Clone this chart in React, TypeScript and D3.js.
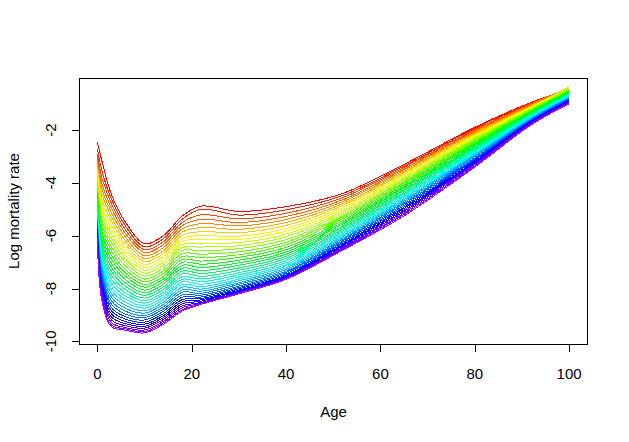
import React from "react";
import * as d3 from "d3";

const ages = [0, 1, 3, 6, 10, 14, 18, 22, 30, 40, 52, 65, 80, 92, 100];

// log mortality rate at each age, one value per year (earliest year first)
const rateAge0 = [-2.45, -2.71, -2.89, -3.04, -3.19, -3.32, -3.45, -3.57, -3.69, -3.8, -3.92, -4.02, -4.13, -4.23, -4.34, -4.44, -4.53, -4.63, -4.73, -4.82, -4.91, -5.01, -5.1, -5.19, -5.28, -5.36, -5.45, -5.54, -5.62, -5.71, -5.79, -5.87, -5.96, -6.04, -6.12, -6.2];
const rateAge1 = [-3.2, -3.57, -3.82, -4.04, -4.24, -4.43, -4.61, -4.79, -4.95, -5.11, -5.27, -5.42, -5.57, -5.72, -5.87, -6.01, -6.15, -6.28, -6.42, -6.55, -6.68, -6.81, -6.94, -7.07, -7.19, -7.32, -7.44, -7.56, -7.68, -7.8, -7.92, -8.04, -8.16, -8.27, -8.39, -8.5];
const rateAge3 = [-4.45, -4.62, -4.79, -4.96, -5.13, -5.29, -5.46, -5.62, -5.79, -5.95, -6.11, -6.27, -6.43, -6.59, -6.74, -6.9, -7.05, -7.2, -7.35, -7.5, -7.64, -7.79, -7.93, -8.07, -8.2, -8.34, -8.47, -8.6, -8.73, -8.85, -8.97, -9.08, -9.19, -9.29, -9.38, -9.45];
const rateAge6 = [-5.5, -5.64, -5.79, -5.93, -6.07, -6.21, -6.34, -6.48, -6.62, -6.75, -6.89, -7.02, -7.15, -7.29, -7.42, -7.54, -7.67, -7.8, -7.92, -8.05, -8.17, -8.29, -8.41, -8.52, -8.64, -8.75, -8.86, -8.97, -9.07, -9.16, -9.25, -9.33, -9.41, -9.48, -9.53, -9.58];
const rateAge10 = [-6.3, -6.42, -6.53, -6.64, -6.76, -6.87, -6.98, -7.09, -7.2, -7.31, -7.42, -7.53, -7.64, -7.74, -7.85, -7.95, -8.06, -8.16, -8.26, -8.36, -8.46, -8.55, -8.65, -8.74, -8.84, -8.93, -9.02, -9.1, -9.19, -9.27, -9.35, -9.43, -9.5, -9.57, -9.63, -9.68];
const rateAge14 = [-6.0, -6.11, -6.23, -6.34, -6.45, -6.57, -6.68, -6.79, -6.9, -7.01, -7.11, -7.22, -7.33, -7.43, -7.54, -7.64, -7.74, -7.84, -7.94, -8.04, -8.14, -8.23, -8.33, -8.42, -8.51, -8.6, -8.69, -8.78, -8.86, -8.95, -9.03, -9.1, -9.17, -9.24, -9.3, -9.35];
const rateAge18 = [-5.25, -5.37, -5.5, -5.62, -5.74, -5.86, -5.98, -6.1, -6.21, -6.33, -6.45, -6.56, -6.68, -6.79, -6.9, -7.01, -7.12, -7.23, -7.34, -7.44, -7.55, -7.65, -7.75, -7.85, -7.95, -8.05, -8.14, -8.24, -8.33, -8.42, -8.5, -8.58, -8.66, -8.73, -8.8, -8.85];
const rateAge22 = [-4.88, -5.0, -5.21, -5.38, -5.54, -5.69, -5.85, -6.0, -6.14, -6.29, -6.43, -6.57, -6.7, -6.83, -6.96, -7.08, -7.2, -7.32, -7.43, -7.54, -7.64, -7.74, -7.84, -7.93, -8.02, -8.1, -8.18, -8.25, -8.32, -8.38, -8.43, -8.48, -8.53, -8.56, -8.59, -8.6];
const rateAge30 = [-5.08, -5.22, -5.36, -5.5, -5.63, -5.76, -5.89, -6.02, -6.14, -6.26, -6.38, -6.49, -6.61, -6.72, -6.82, -6.93, -7.03, -7.12, -7.22, -7.31, -7.4, -7.48, -7.56, -7.64, -7.71, -7.78, -7.84, -7.91, -7.96, -8.01, -8.06, -8.1, -8.14, -8.17, -8.19, -8.2];
const rateAge40 = [-4.9, -5.02, -5.15, -5.27, -5.39, -5.5, -5.61, -5.73, -5.83, -5.94, -6.04, -6.15, -6.25, -6.34, -6.44, -6.53, -6.62, -6.7, -6.78, -6.86, -6.94, -7.02, -7.09, -7.15, -7.22, -7.28, -7.34, -7.39, -7.44, -7.49, -7.53, -7.56, -7.6, -7.62, -7.64, -7.65];
const rateAge52 = [-4.4, -4.48, -4.56, -4.64, -4.71, -4.79, -4.86, -4.94, -5.01, -5.08, -5.15, -5.23, -5.29, -5.36, -5.43, -5.5, -5.56, -5.63, -5.69, -5.75, -5.81, -5.87, -5.93, -5.99, -6.04, -6.1, -6.15, -6.2, -6.25, -6.3, -6.35, -6.39, -6.44, -6.48, -6.52, -6.55];
const rateAge65 = [-3.3, -3.36, -3.41, -3.47, -3.52, -3.58, -3.63, -3.69, -3.75, -3.8, -3.86, -3.91, -3.97, -4.02, -4.08, -4.14, -4.19, -4.25, -4.3, -4.36, -4.41, -4.47, -4.53, -4.58, -4.64, -4.69, -4.75, -4.8, -4.86, -4.92, -4.97, -5.03, -5.08, -5.14, -5.19, -5.25];
const rateAge80 = [-1.9, -1.94, -1.99, -2.03, -2.07, -2.11, -2.16, -2.2, -2.24, -2.29, -2.33, -2.37, -2.41, -2.46, -2.5, -2.54, -2.59, -2.63, -2.67, -2.71, -2.76, -2.8, -2.84, -2.89, -2.93, -2.97, -3.01, -3.06, -3.1, -3.14, -3.19, -3.23, -3.27, -3.31, -3.36, -3.4];
const rateAge92 = [-0.95, -0.97, -1.0, -1.02, -1.05, -1.07, -1.1, -1.12, -1.14, -1.17, -1.19, -1.22, -1.24, -1.27, -1.29, -1.31, -1.34, -1.36, -1.39, -1.41, -1.44, -1.46, -1.48, -1.51, -1.53, -1.56, -1.58, -1.61, -1.63, -1.65, -1.68, -1.7, -1.73, -1.75, -1.78, -1.8];
const rateAge100 = [-0.46, -0.44, -0.42, -0.4, -0.39, -0.38, -0.39, -0.4, -0.41, -0.42, -0.44, -0.46, -0.49, -0.51, -0.53, -0.55, -0.58, -0.6, -0.62, -0.64, -0.66, -0.69, -0.71, -0.73, -0.75, -0.78, -0.8, -0.82, -0.84, -0.87, -0.89, -0.91, -0.93, -0.96, -0.98, -1.0];

const ratesByAge = [rateAge0, rateAge1, rateAge3, rateAge6, rateAge10, rateAge14, rateAge18, rateAge22, rateAge30, rateAge40, rateAge52, rateAge65, rateAge80, rateAge92, rateAge100];

const xTicks = [0, 20, 40, 60, 80, 100];
const yTicks = [-10, -8, -6, -4, -2];

const font = "'Liberation Sans', Arial, sans-serif";

export default function App() {
  const width = 629,
    height = 442;
  const left = 79,
    right = 588,
    top = 78,
    bottom = 344;

  const x = d3.scaleLinear().domain([-4, 104]).range([78.5, 588]);
  const y = d3.scaleLinear().domain([-10.1, -0.03]).range([bottom, top]);

  const nYears = rateAge0.length;
  // rainbow from red (first year) to violet (last year)
  const colour = (i: number) => d3.hsl((280 * i) / (nYears - 1), 1, 0.5).formatHex();

  const line = d3
    .line<[number, number]>()
    .x((d) => x(d[0]))
    .y((d) => y(d[1]))
    .curve(d3.curveCatmullRom.alpha(0.5));

  const curves = d3.range(nYears).map((i) =>
    ages.map((a, k) => [a, ratesByAge[k][i]] as [number, number])
  );

  return (
    <div style={{ position: "absolute", left: 0, top: 0 }}>
      <svg width={width} height={height} style={{ display: "block", background: "#fff" }}>
        <g fill="none" strokeWidth={1} shapeRendering="crispEdges">
          {curves.map((c, i) => (
            <path key={i} d={line(c) || ""} stroke={colour(i)} />
          ))}
        </g>

        {/* box */}
        <rect
          x={left + 0.5}
          y={top + 0.5}
          width={right - left - 1}
          height={bottom - top}
          fill="none"
          stroke="#000"
          strokeWidth={1}
        />

        {/* x axis */}
        <g stroke="#000" strokeWidth={1}>
          <line x1={x(0)} x2={x(100)} y1={bottom + 0.5} y2={bottom + 0.5} />
          {xTicks.map((t) => (
            <line key={t} x1={Math.round(x(t)) + 0.5} x2={Math.round(x(t)) + 0.5} y1={bottom} y2={bottom + 8} />
          ))}
        </g>
        <g fontFamily={font} fontSize={15} fill="#000" textAnchor="middle">
          {xTicks.map((t) => (
            <text key={t} x={x(t)} y={379}>
              {t}
            </text>
          ))}
          <text x={(left + right) / 2} y={417}>
            Age
          </text>
        </g>

        {/* y axis */}
        <g stroke="#000" strokeWidth={1}>
          <line x1={left + 0.5} x2={left + 0.5} y1={y(-10)} y2={y(-2)} />
          {yTicks.map((t) => (
            <line key={t} x1={left - 7} x2={left} y1={Math.round(y(t)) + 0.5} y2={Math.round(y(t)) + 0.5} />
          ))}
        </g>
        <g fontFamily={font} fontSize={15} fill="#000" textAnchor="middle">
          {yTicks.map((t) => (
            <text key={t} transform={`translate(56,${y(t)}) rotate(-90)`}>
              {t}
            </text>
          ))}
          <text transform={`translate(19,${(top + bottom) / 2}) rotate(-90)`}>Log mortality rate</text>
        </g>
      </svg>
    </div>
  );
}
